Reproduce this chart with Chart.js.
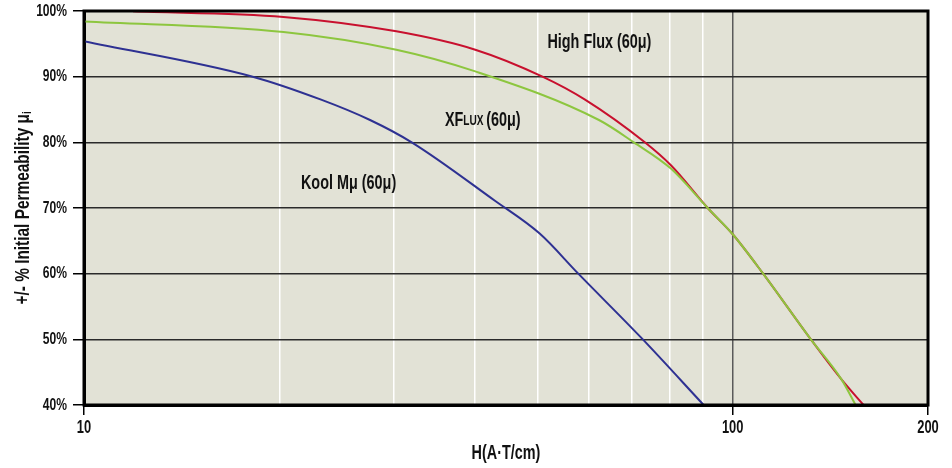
<!DOCTYPE html>
<html>
<head>
<meta charset="utf-8">
<script src="https://cdn.jsdelivr.net/npm/chart.js@4"></script>
<style>
  html, body { margin: 0; padding: 0; background: #fff; }
  canvas { display: block; }
</style>
</head>
<body>
<canvas id="permChart" width="952" height="468"></canvas>
<script>
// H field (A·T/cm) and % of initial permeability
const highFluxH   = [11.9, 20.3, 30.3, 40.1, 50.9, 59.2, 73.2, 80.3, 91.5, 100, 111.4, 131.7, 147.1, 159.1];
const highFluxPct = [99.95, 99.1, 96.9, 94.1, 90.0, 86.5, 80.0, 76.5, 70.0, 66.0, 60.0, 50.1, 43.9, 40.0];

const xfluxH   = [10, 20.3, 30.3, 40.1, 62.2, 70.4, 80.3, 91.5, 100, 111.4, 131.7, 147.1, 154.7];
const xfluxPct = [98.4, 96.8, 94.1, 90.8, 83.4, 80.0, 76.0, 70.0, 66.0, 60.0, 50.1, 43.9, 40.0];

const koolH   = [10, 18.2, 23.2, 27.6, 32.0, 43.0, 50.4, 57.8, 72.5, 90.2];
const koolPct = [95.4, 90.0, 86.5, 83.4, 80.0, 71.1, 66.1, 60.0, 50.1, 40.0];

const xTicks = [10, 20, 30, 40, 50, 60, 70, 80, 90, 100, 200];
const xLabeled = [10, 100, 200];
const yTicks = [40, 50, 60, 70, 80, 90, 100];

const FONT = '"Liberation Sans", Arial, sans-serif';
const pts = (xs, ys) => xs.map((x, i) => ({ x: x, y: ys[i] }));

// the original uses a condensed face, so squeeze the text horizontally
function narrowText(ctx, text, x, y, font, sq, align) {
  ctx.save();
  ctx.font = font;
  const w = ctx.measureText(text).width * sq;
  let left = x;
  if (align === 'center') left = x - w / 2;
  if (align === 'right') left = x - w;
  ctx.translate(left, y);
  ctx.scale(sq, 1);
  ctx.textAlign = 'left';
  ctx.fillText(text, 0, 0);
  ctx.restore();
  return w;
}

const YTICK_FONT = 'bold 17px ' + FONT;
const XTICK_FONT = 'bold 19px ' + FONT;
const LABEL_FONT = 'bold 20px ' + FONT;
const SMALL_FONT = 'bold 14px ' + FONT;
const SQ = 0.72;

const plotDecor = {
  id: 'plotDecor',
  beforeDraw(chart) {
    const { ctx, chartArea: a } = chart;
    ctx.save();
    ctx.fillStyle = '#e2e2d6';
    ctx.fillRect(a.left, a.top, a.right - a.left, a.bottom - a.top);
    ctx.restore();
  },
  afterDraw(chart) {
    const { ctx, chartArea: a, scales } = chart;
    ctx.save();
    ctx.strokeStyle = '#000';
    ctx.lineWidth = 3;
    ctx.strokeRect(a.left, a.top, a.right - a.left, a.bottom - a.top);

    ctx.fillStyle = '#111';
    ctx.textBaseline = 'middle';

    // tick labels
    yTicks.forEach(v => {
      narrowText(ctx, v + '%', a.left - 17, scales.y.getPixelForValue(v), YTICK_FONT, 0.71, 'right');
    });
    ctx.textBaseline = 'top';
    xLabeled.forEach(v => {
      narrowText(ctx, String(v), scales.x.getPixelForValue(v), a.bottom + 13, XTICK_FONT, 0.68, 'center');
    });

    // curve labels
    ctx.textBaseline = 'middle';
    const px = (h) => scales.x.getPixelForValue(h);
    const py = (p) => scales.y.getPixelForValue(p);
    narrowText(ctx, 'High Flux (60μ)', px(51.8), py(95.2), LABEL_FONT, SQ, 'left');
    narrowText(ctx, 'Kool Mμ (60μ)', px(21.6), py(73.8), LABEL_FONT, SQ, 'left');
    let lx = px(36.0);
    const ly = py(83.4);
    lx += narrowText(ctx, 'XF', lx, ly, LABEL_FONT, SQ, 'left');
    lx += narrowText(ctx, 'LUX ', lx, ly + 1.5, SMALL_FONT, SQ, 'left');
    narrowText(ctx, '(60μ)', lx, ly, LABEL_FONT, SQ, 'left');

    // x axis title
    narrowText(ctx, 'H(A·T/cm)', (a.left + a.right) / 2, 453, LABEL_FONT, SQ, 'center');

    // y axis title with subscript i
    ctx.translate(23, (a.top + a.bottom) / 2);
    ctx.rotate(-Math.PI / 2);
    const main = '+/- % Initial Permeability μ';
    const sq = 0.77;
    ctx.font = LABEL_FONT;
    const w1 = ctx.measureText(main).width * sq;
    ctx.font = 'bold 12px ' + FONT;
    const w2 = ctx.measureText('i').width * sq;
    const start = -(w1 + w2) / 2;
    narrowText(ctx, main, start, 0, LABEL_FONT, sq, 'left');
    narrowText(ctx, 'i', start + w1, 5, 'bold 12px ' + FONT, sq, 'left');
    ctx.restore();
  }
};

const ctx = document.getElementById('permChart').getContext('2d');
const permChart = new Chart(ctx, {
  type: 'line',
  data: {
    datasets: [
      {
        label: 'Kool Mμ (60μ)',
        data: pts(koolH, koolPct),
        borderColor: '#2e3192',
      },
      {
        label: 'XFLUX (60μ)',
        data: pts(xfluxH, xfluxPct),
        borderColor: '#8dc63f',
      },
      {
        label: 'High Flux (60μ)',
        data: pts(highFluxH, highFluxPct),
        borderColor: '#c8102e',
      },
    ],
  },
  options: {
    responsive: false,
    animation: false,
    layout: { padding: { top: 11, right: 24, left: 0, bottom: 0 } },
    elements: {
      line: { borderWidth: 2, cubicInterpolationMode: 'monotone', fill: false },
      point: { radius: 0 },
    },
    plugins: {
      legend: { display: false },
      tooltip: { enabled: false },
    },
    scales: {
      x: {
        type: 'logarithmic',
        min: 10,
        max: 200,
        afterBuildTicks: (scale) => { scale.ticks = xTicks.map(v => ({ value: v })); },
        afterFit: (scale) => { scale.height = 63; },
        border: { display: true, color: '#000', width: 3 },
        grid: {
          lineWidth: 1.5,
          tickLength: 10,
          color: (c) => {
            const v = c.tick && c.tick.value;
            if (v === 100) return '#5a5a5a';
            if (v === 10 || v === 200) return 'rgba(0,0,0,0)';
            return '#ffffff';
          },
          tickColor: (c) => xLabeled.includes(c.tick && c.tick.value) ? '#000' : 'rgba(0,0,0,0)',
        },
        ticks: { display: false, autoSkip: false },
      },
      y: {
        min: 40,
        max: 100,
        afterBuildTicks: (scale) => { scale.ticks = yTicks.map(v => ({ value: v })); },
        afterFit: (scale) => { scale.width = 84; },
        border: { display: true, color: '#000', width: 3 },
        grid: {
          color: '#2a2a2a',
          lineWidth: 1.5,
          tickLength: 11,
          tickColor: '#000',
        },
        ticks: { display: false },
      },
    },
  },
  plugins: [plotDecor],
});
</script>
</body>
</html>
